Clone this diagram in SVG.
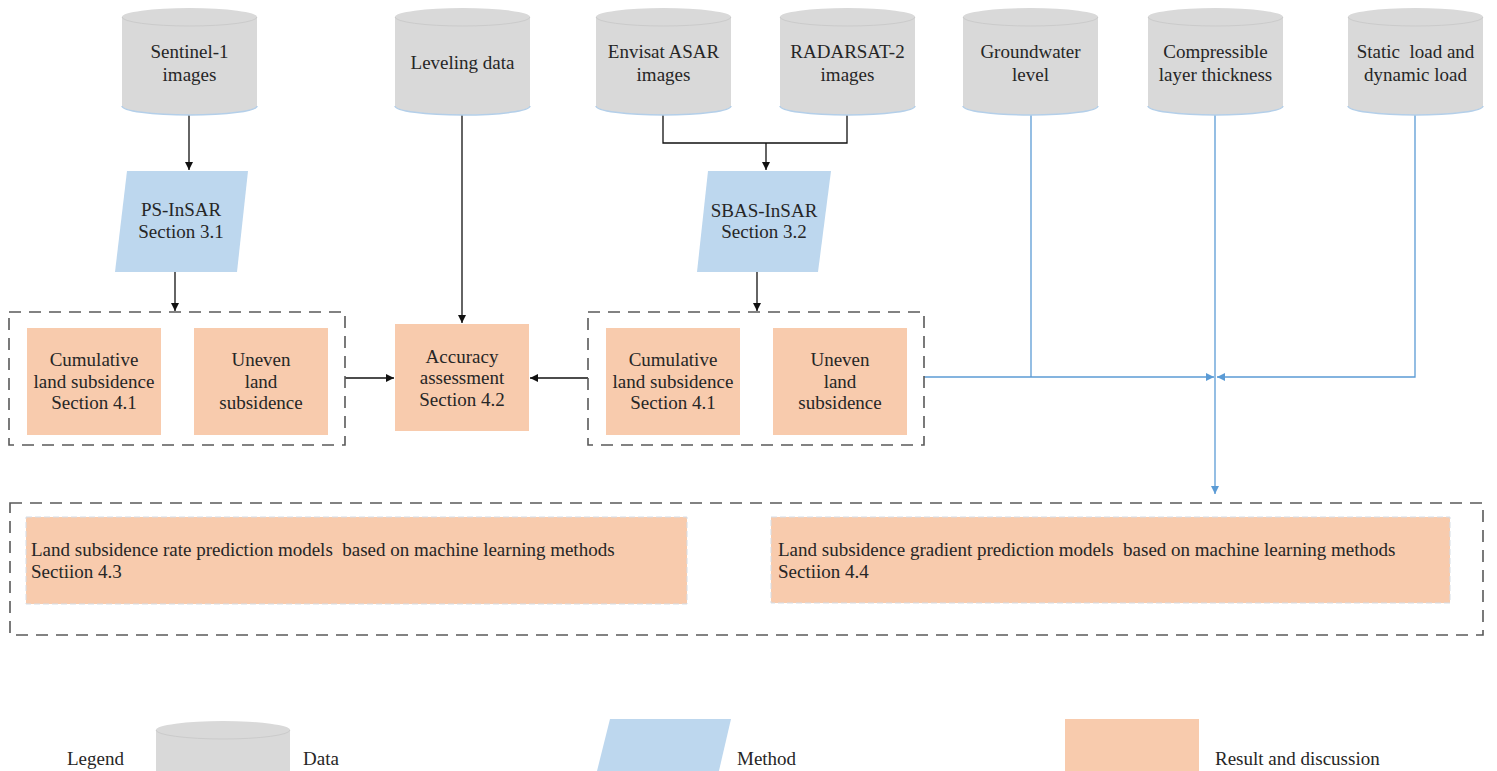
<svg xmlns="http://www.w3.org/2000/svg" width="1497" height="771" viewBox="0 0 1497 771">
<defs>
<style>
.t{font-family:"Liberation Serif","Times New Roman",serif;font-size:19px;fill:#262626;text-anchor:middle}
.tl{font-family:"Liberation Serif","Times New Roman",serif;font-size:19px;fill:#262626}
.cyl{fill:#d9d9d9}
.cyltop{fill:none;stroke:#cbcbcb;stroke-width:1}
.cylbot{fill:none;stroke:#b4cfe9;stroke-width:1.5}
.meth{fill:#bdd7ee}
.res{fill:#f8cbad}
.resb{fill:#f8cbad;stroke:#d5dde6;stroke-width:1;stroke-dasharray:6 3}
.grp{fill:none;stroke:#595959;stroke-width:1.6;stroke-dasharray:12 8}
.k{fill:none;stroke:#111;stroke-width:1.3}
.b{fill:none;stroke:#5b9bd5;stroke-width:1.3}
</style>
<marker id="ak" viewBox="0 0 10 10" refX="10" refY="5" markerWidth="8" markerHeight="8" markerUnits="userSpaceOnUse" orient="auto"><path d="M0,0 L10,5 L0,10 Z" fill="#111"/></marker>
<marker id="ab" viewBox="0 0 10 10" refX="10" refY="5" markerWidth="8" markerHeight="8" markerUnits="userSpaceOnUse" orient="auto"><path d="M0,0 L10,5 L0,10 Z" fill="#5b9bd5"/></marker>
</defs>

<g id="connectors">
<path class="k" d="M189,115 V170" marker-end="url(#ak)"/>
<path class="k" d="M175,272 V311" marker-end="url(#ak)"/>
<path class="k" d="M462,115 V323" marker-end="url(#ak)"/>
<path class="k" d="M663,115 V143 H847 V115"/>
<path class="k" d="M766,143 V170" marker-end="url(#ak)"/>
<path class="k" d="M757,272 V311" marker-end="url(#ak)"/>
<path class="k" d="M345,378 H394" marker-end="url(#ak)"/>
<path class="k" d="M588,378 H530" marker-end="url(#ak)"/>
<path class="b" d="M924,377 H1214" marker-end="url(#ab)"/>
<path class="b" d="M1031,115 V377"/>
<path class="b" d="M1415,115 V377 H1217" marker-end="url(#ab)"/>
<path class="b" d="M1215,115 V494" marker-end="url(#ab)"/>
</g>

<g id="sentinel">
<path class="cyl" d="M122,17 A67.5,9 0 0 1 257,17 V106 A67.5,9 0 0 1 122,106 Z"/>
<path class="cyltop" d="M122,17 A67.5,9 0 0 0 257,17"/>
<path class="cylbot" d="M122,106 A67.5,9 0 0 0 257,106"/>
<text class="t" x="189.5" y="58">Sentinel-1</text>
<text class="t" x="189.5" y="81">images</text>
</g>
<g id="leveling">
<path class="cyl" d="M395,17 A67.5,9 0 0 1 530,17 V106 A67.5,9 0 0 1 395,106 Z"/>
<path class="cyltop" d="M395,17 A67.5,9 0 0 0 530,17"/>
<path class="cylbot" d="M395,106 A67.5,9 0 0 0 530,106"/>
<text class="t" x="462.5" y="69">Leveling data</text>
</g>
<g id="envisat">
<path class="cyl" d="M596,17 A67.5,9 0 0 1 731,17 V106 A67.5,9 0 0 1 596,106 Z"/>
<path class="cyltop" d="M596,17 A67.5,9 0 0 0 731,17"/>
<path class="cylbot" d="M596,106 A67.5,9 0 0 0 731,106"/>
<text class="t" x="663.5" y="58">Envisat ASAR</text>
<text class="t" x="663.5" y="81">images</text>
</g>
<g id="radarsat">
<path class="cyl" d="M780,17 A67.5,9 0 0 1 915,17 V106 A67.5,9 0 0 1 780,106 Z"/>
<path class="cyltop" d="M780,17 A67.5,9 0 0 0 915,17"/>
<path class="cylbot" d="M780,106 A67.5,9 0 0 0 915,106"/>
<text class="t" x="847.5" y="58">RADARSAT-2</text>
<text class="t" x="847.5" y="81">images</text>
</g>
<g id="groundwater">
<path class="cyl" d="M963,17 A67.5,9 0 0 1 1098,17 V106 A67.5,9 0 0 1 963,106 Z"/>
<path class="cyltop" d="M963,17 A67.5,9 0 0 0 1098,17"/>
<path class="cylbot" d="M963,106 A67.5,9 0 0 0 1098,106"/>
<text class="t" x="1030.5" y="58">Groundwater</text>
<text class="t" x="1030.5" y="81">level</text>
</g>
<g id="compressible">
<path class="cyl" d="M1148,17 A67.5,9 0 0 1 1283,17 V106 A67.5,9 0 0 1 1148,106 Z"/>
<path class="cyltop" d="M1148,17 A67.5,9 0 0 0 1283,17"/>
<path class="cylbot" d="M1148,106 A67.5,9 0 0 0 1283,106"/>
<text class="t" x="1215.5" y="58">Compressible</text>
<text class="t" x="1215.5" y="81">layer thickness</text>
</g>
<g id="static">
<path class="cyl" d="M1348,17 A67.5,9 0 0 1 1483,17 V106 A67.5,9 0 0 1 1348,106 Z"/>
<path class="cyltop" d="M1348,17 A67.5,9 0 0 0 1483,17"/>
<path class="cylbot" d="M1348,106 A67.5,9 0 0 0 1483,106"/>
<text class="t" x="1415.5" y="58" xml:space="preserve">Static  load and</text>
<text class="t" x="1415.5" y="81">dynamic load</text>
</g>

<g id="ps-insar">
<polygon class="meth" points="127,171 248,171 237,272 115,272"/>
<text class="t" x="181" y="216">PS-InSAR</text>
<text class="t" x="181" y="238">Section 3.1</text>
</g>
<g id="sbas-insar">
<polygon class="meth" points="708,171 831,171 818,272 697,272"/>
<text class="t" x="764" y="217">SBAS-InSAR</text>
<text class="t" x="764" y="238">Section 3.2</text>
</g>

<g id="group-ps">
<rect class="grp" x="9" y="312" width="336" height="133"/>
</g>
<g id="cumulative-1">
<rect class="res" x="27" y="328" width="134" height="107"/>
<text class="t" x="94" y="366">Cumulative</text>
<text class="t" x="94" y="388">land subsidence</text>
<text class="t" x="94" y="409">Section 4.1</text>
</g>
<g id="uneven-1">
<rect class="res" x="194" y="328" width="134" height="107"/>
<text class="t" x="261" y="366">Uneven</text>
<text class="t" x="261" y="388">land</text>
<text class="t" x="261" y="409">subsidence</text>
</g>
<g id="accuracy">
<rect class="res" x="395" y="324" width="134" height="107"/>
<text class="t" x="462" y="363">Accuracy</text>
<text class="t" x="462" y="384">assessment</text>
<text class="t" x="462" y="406">Section 4.2</text>
</g>
<g id="group-sbas">
<rect class="grp" x="588" y="312" width="336" height="133"/>
</g>
<g id="cumulative-2">
<rect class="res" x="606" y="328" width="134" height="107"/>
<text class="t" x="673" y="366">Cumulative</text>
<text class="t" x="673" y="388">land subsidence</text>
<text class="t" x="673" y="409">Section 4.1</text>
</g>
<g id="uneven-2">
<rect class="res" x="773" y="328" width="134" height="107"/>
<text class="t" x="840" y="366">Uneven</text>
<text class="t" x="840" y="388">land</text>
<text class="t" x="840" y="409">subsidence</text>
</g>

<g id="group-models">
<rect class="grp" x="10" y="503" width="1473" height="132"/>
</g>
<g id="rate-model">
<rect class="resb" x="26" y="517" width="661" height="87"/>
<text class="tl" x="31" y="556" xml:space="preserve">Land subsidence rate prediction models  based on machine learning methods</text>
<text class="tl" x="31" y="578">Sectiion 4.3</text>
</g>
<g id="gradient-model">
<rect class="resb" x="771" y="517" width="679" height="86"/>
<text class="tl" x="778" y="556" xml:space="preserve">Land subsidence gradient prediction models  based on machine learning methods</text>
<text class="tl" x="778" y="578">Sectiion 4.4</text>
</g>

<g id="legend">
<text class="tl" x="67" y="765">Legend</text>
<path class="cyl" d="M156,730 A67,9 0 0 1 290,730 V790 H156 Z"/>
<path class="cyltop" d="M156,730 A67,9 0 0 0 290,730"/>
<text class="tl" x="303" y="765">Data</text>
<polygon class="meth" points="610,719 731,719 718,775 596,775"/>
<text class="tl" x="737" y="765">Method</text>
<rect class="res" x="1065" y="719" width="134" height="60"/>
<text class="tl" x="1215" y="765">Result and discussion</text>
</g>
</svg>
